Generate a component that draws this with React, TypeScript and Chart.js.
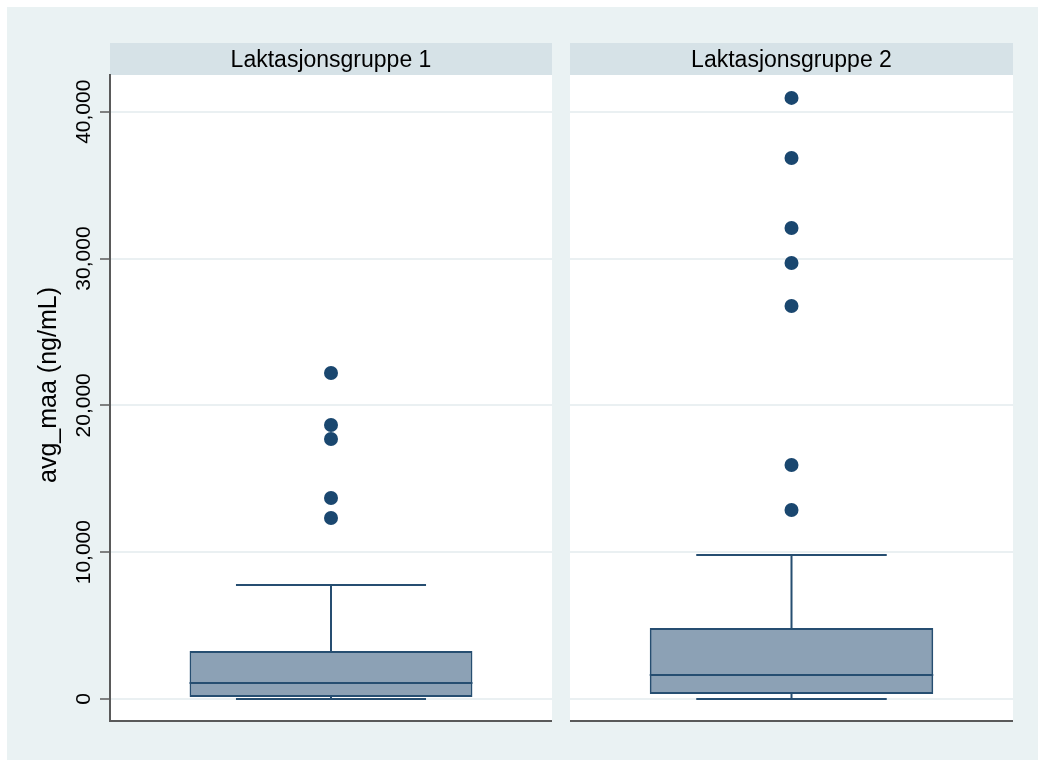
import React, { useEffect, useRef } from "react";
import { Chart, registerables } from "chart.js";

Chart.register(...registerables);

// Box plot summary per lactation group
const groups = ["Laktasjonsgruppe 1", "Laktasjonsgruppe 2"];
const lowerWhisker = [0, 0];
const q1 = [140, 340];
const median = [1090, 1630];
const q3 = [3270, 4840];
const upperWhisker = [7760, 9810];
const outliers1 = [12330, 13690, 17710, 18660, 22200];
const outliers2 = [12870, 15940, 26770, 29700, 32080, 36850, 40940];
const outliers = [outliers1, outliers2];
const yTicks = [0, 10000, 20000, 30000, 40000];
const yTitle = "avg_maa (ng/mL)";

const FONT = "'Liberation Sans', Arial, Helvetica, sans-serif";
const OUTER_BG = "rgb(234,242,243)";
const STRIP_BG = "rgb(214,226,231)";
const NAVY = "#1a476f";
const BOX_FILL = "rgb(140,161,181)";
const BOX_LINE = "rgb(38,78,113)";
const GRID = "rgb(234,240,242)";
const AXIS = "#5a5a5a";

const CANVAS_H = 753;
const STRIP_H = 32;

function makeChart(canvas: HTMLCanvasElement, idx: number, withAxis: boolean) {
  const boxPlugin = {
    id: "boxPanel",
    beforeDraw(chart: any) {
      const { ctx, chartArea } = chart;
      const { left, right, top, bottom } = chartArea;
      ctx.save();
      ctx.fillStyle = "#ffffff";
      ctx.fillRect(left, top, right - left, bottom - top);
      ctx.fillStyle = STRIP_BG;
      ctx.fillRect(left, top - STRIP_H, right - left, STRIP_H);
      ctx.fillStyle = "#000";
      ctx.font = `23px ${FONT}`;
      ctx.textAlign = "center";
      ctx.textBaseline = "alphabetic";
      ctx.fillText(groups[idx], (left + right) / 2, top - 8);
      ctx.restore();
    },
    beforeDatasetsDraw(chart: any) {
      const { ctx, chartArea } = chart;
      const y = chart.scales.y;
      const x = chart.scales.x;
      const cx = x.getPixelForValue(0);
      const capHalf = (chartArea.right - chartArea.left) * 0.215;
      ctx.save();
      ctx.strokeStyle = BOX_LINE;
      ctx.lineWidth = 2;
      ctx.beginPath();
      ctx.moveTo(cx, y.getPixelForValue(q3[idx]));
      ctx.lineTo(cx, y.getPixelForValue(upperWhisker[idx]));
      ctx.moveTo(cx - capHalf, y.getPixelForValue(upperWhisker[idx]));
      ctx.lineTo(cx + capHalf, y.getPixelForValue(upperWhisker[idx]));
      ctx.moveTo(cx, y.getPixelForValue(q1[idx]));
      ctx.lineTo(cx, y.getPixelForValue(lowerWhisker[idx]));
      ctx.moveTo(cx - capHalf, y.getPixelForValue(lowerWhisker[idx]));
      ctx.lineTo(cx + capHalf, y.getPixelForValue(lowerWhisker[idx]));
      ctx.stroke();
      ctx.restore();
    },
    afterDatasetsDraw(chart: any) {
      const { ctx } = chart;
      const y = chart.scales.y;
      const bar = chart.getDatasetMeta(0).data[0];
      const half = bar.width / 2;
      const my = y.getPixelForValue(median[idx]);
      ctx.save();
      ctx.strokeStyle = BOX_LINE;
      ctx.lineWidth = 2;
      ctx.beginPath();
      ctx.moveTo(bar.x - half, my);
      ctx.lineTo(bar.x + half, my);
      ctx.stroke();
      ctx.restore();
    },
    afterDraw(chart: any) {
      const { ctx, chartArea } = chart;
      const y = chart.scales.y;
      ctx.save();
      ctx.strokeStyle = AXIS;
      ctx.lineWidth = 2;
      ctx.beginPath();
      ctx.moveTo(chartArea.left - (withAxis ? 1 : 0), chartArea.bottom + 1);
      ctx.lineTo(chartArea.right, chartArea.bottom + 1);
      ctx.stroke();
      if (withAxis) {
        ctx.fillStyle = "#000";
        ctx.font = `21px ${FONT}`;
        ctx.textAlign = "center";
        ctx.textBaseline = "alphabetic";
        for (const t of yTicks) {
          const py = y.getPixelForValue(t);
          ctx.save();
          ctx.translate(83, py);
          ctx.rotate(-Math.PI / 2);
          ctx.fillText(t.toLocaleString("en-US"), 0, 0);
          ctx.restore();
        }
        ctx.font = `25px ${FONT}`;
        ctx.save();
        ctx.translate(49, 378);
        ctx.rotate(-Math.PI / 2);
        ctx.fillText(yTitle, 0, 0);
        ctx.restore();
      }
      ctx.restore();
    },
  };

  return new Chart(canvas, {
    type: "bar",
    data: {
      labels: [groups[idx]],
      datasets: [
        {
          type: "bar",
          data: [[q1[idx], q3[idx]]] as any,
          backgroundColor: BOX_FILL,
          borderColor: BOX_LINE,
          borderWidth: 2,
          borderSkipped: false,
          barPercentage: 0.64,
          categoryPercentage: 1,
        },
        {
          type: "scatter",
          data: outliers[idx].map((v) => ({ x: groups[idx], y: v })) as any,
          backgroundColor: NAVY,
          borderColor: NAVY,
          borderWidth: 0,
          pointRadius: 7,
          pointHoverRadius: 7,
        },
      ],
    },
    options: {
      responsive: false,
      animation: false,
      devicePixelRatio: 1,
      layout: { autoPadding: false, padding: { top: 68, bottom: 40, left: 0, right: 0 } },
      plugins: { legend: { display: false }, tooltip: { enabled: false } },
      scales: {
        x: { type: "category", display: false },
        y: {
          type: "linear",
          min: -1430,
          max: 42500,
          afterBuildTicks: (scale: any) => {
            scale.ticks = yTicks.map((v) => ({ value: v }));
          },
          afterFit: (scale: any) => {
            scale.width = withAxis ? 103 : 0;
          },
          ticks: { display: false },
          border: { display: withAxis, color: AXIS, width: 2 },
          grid: {
            color: GRID,
            lineWidth: 2,
            drawTicks: withAxis,
            tickLength: 10,
            tickColor: AXIS,
            tickWidth: 1.5,
          },
        },
      },
    } as any,
    plugins: [boxPlugin],
  });
}

function Panel({ idx, withAxis, left, width }: { idx: number; withAxis: boolean; left: number; width: number }) {
  const ref = useRef<HTMLCanvasElement>(null);
  useEffect(() => {
    if (!ref.current) return;
    const chart = makeChart(ref.current, idx, withAxis);
    return () => chart.destroy();
  }, [idx, withAxis]);
  return (
    <div style={{ position: "absolute", left, top: 7, width, height: CANVAS_H }}>
      <canvas ref={ref} width={width} height={CANVAS_H} style={{ display: "block" }} />
    </div>
  );
}

export default function App() {
  return (
    <div
      style={{
        position: "fixed",
        left: 0,
        top: 0,
        width: 1038,
        height: 760,
        background: "#ffffff",
        overflow: "hidden",
      }}
    >
      <div style={{ position: "absolute", left: 7, top: 7, right: 0, bottom: 0, background: OUTER_BG }} />
      <Panel idx={0} withAxis={true} left={7} width={545} />
      <Panel idx={1} withAxis={false} left={570} width={443} />
    </div>
  );
}
